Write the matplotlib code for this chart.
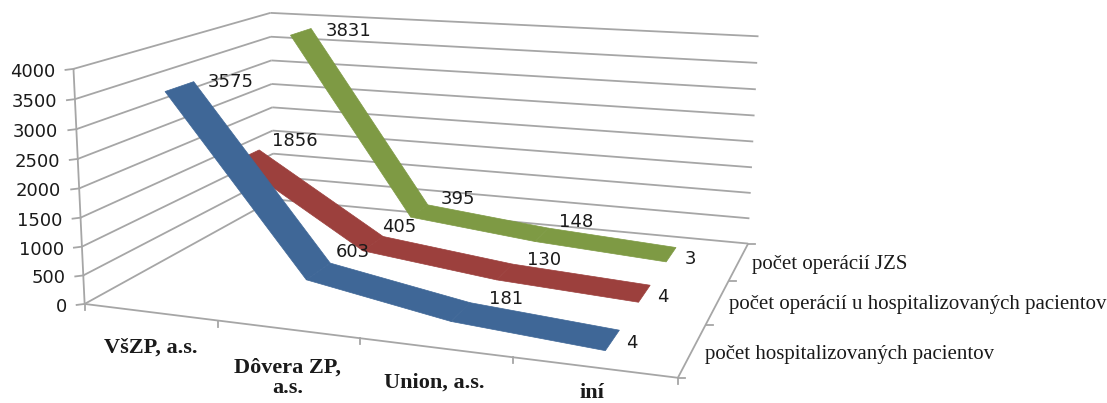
import numpy as np
from matplotlib import pyplot as plt
from matplotlib.patches import Polygon

categories = ['VšZP, a.s.', 'Dôvera ZP,\na.s.', 'Union, a.s.', 'iní']
series_names = ['počet hospitalizovaných pacientov',
                'počet operácií u hospitalizovaných pacientov',
                'počet operácií JZS']
hospitalized = [3575, 603, 181, 4]
operated = [1856, 405, 130, 4]
jzs = [3831, 395, 148, 3]
value_ticks = [0, 500, 1000, 1500, 2000, 2500, 3000, 3500, 4000]

colors = ['#3F6797', '#9C403D', '#7E9A44']
GRID = '#A6A6A6'
TXT = '#1a1a1a'

# fit a camera to the box corners of the 3d chart (cat, series, value/4000) -> pixel
world = np.array([[0, 0, 0], [0, 0, 1], [0, 3, 0], [0, 3, 1], [4, 3, 0], [4, 3, 1], [4, 0, 0],
                  [1, 0, 0], [2, 0, 0], [3, 0, 0], [4, 1, 0], [4, 2, 0]], float)
pixel = np.array([[87, 303], [72, 68], [272, 199], [272, 13], [748, 244], [758, 37], [677, 377],
                  [218, 322], [360, 340], [512, 358], [707, 323], [730, 280]], float)
rows = []
for (x, y, z), (u, v) in zip(world, pixel):
    rows.append([x, y, z, 1, 0, 0, 0, 0, -u * x, -u * y, -u * z, -u])
    rows.append([0, 0, 0, 0, x, y, z, 1, -v * x, -v * y, -v * z, -v])
cam = np.linalg.svd(np.array(rows))[2][-1].reshape(3, 4)


def project(cat, ser, val):
    h = cam @ np.array([cat, ser, val / 4000, 1.0])
    return h[0] / h[2], h[1] / h[2]


fig = plt.figure(figsize=(11.07, 4.03), dpi=100)
ax = fig.add_axes([0, 0, 1, 1])
ax.set_xlim(0, 1107)
ax.set_ylim(403, 0)
ax.axis('off')


def line(a, b, lw=1.3):
    ax.plot(*zip(project(*a), project(*b)), color=GRID, lw=lw, solid_capstyle='butt', zorder=1)


# walls
for v in value_ticks:
    line((0, 0, v), (0, 3, v))
    line((0, 3, v), (4, 3, v))
    x, y = project(0, 0, v)
    ax.plot([x - 8, x], [y + 1, y], color=GRID, lw=1.3, zorder=1)
    ax.text(x - 18, y + 3, str(v), ha='right', va='center', fontsize=13, color=TXT)
line((0, 0, 0), (0, 0, 4000))

# floor edges and ticks
line((0, 0, 0), (4, 0, 0))
line((4, 0, 0), (4, 3, 0))
for c in range(5):
    x, y = project(c, 0, 0)
    ax.plot([x, x], [y, y + 6], color=GRID, lw=1.3, zorder=1)
for s in range(4):
    x, y = project(4, s, 0)
    ax.plot([x, x + 7], [y, y], color=GRID, lw=1.3, zorder=1)

# ribbons, back one first
half = 0.2
all_series = [hospitalized, operated, jzs]
for s in [2, 1, 0]:
    vals = all_series[s]
    for c in range(len(vals) - 1):
        pts = [project(c + 0.5, s + 0.5 - half, vals[c]),
               project(c + 1.5, s + 0.5 - half, vals[c + 1]),
               project(c + 1.5, s + 0.5 + half, vals[c + 1]),
               project(c + 0.5, s + 0.5 + half, vals[c])]
        ax.add_patch(Polygon(pts, closed=True, fc=colors[s], ec=colors[s], lw=0.5, zorder=3 + (2 - s)))

# data labels, offset in pixels from the ribbon point
label_off = [[(51, -4), (34, -19), (45, -13), (19, 3)],
             [(47, -14), (26, -17), (39, -12), (18, 3)],
             [(48, -1), (39, -12), (34, -13), (19, 4)]]
for s, vals in enumerate(all_series):
    for c, val in enumerate(vals):
        x, y = project(c + 0.5, s + 0.5, val)
        dx, dy = label_off[s][c]
        ax.text(x + dx, y + dy, str(val), ha='center', va='center', fontsize=13, color=TXT, zorder=8)

cat_pos = [(151, 348), (288, 378), (434, 383), (592, 393)]
for name, (x, y) in zip(categories, cat_pos):
    ax.text(x, y, name, ha='center', va='center', fontsize=16, family='Liberation Serif',
            weight='bold', color=TXT, linespacing=1.0)

ser_pos = [(705, 354), (729, 305), (752, 265)]
for name, (x, y) in zip(series_names, ser_pos):
    ax.text(x, y, name, ha='left', va='center', fontsize=15, family='Liberation Serif', color=TXT)

fig.savefig('out.png', dpi=100)
